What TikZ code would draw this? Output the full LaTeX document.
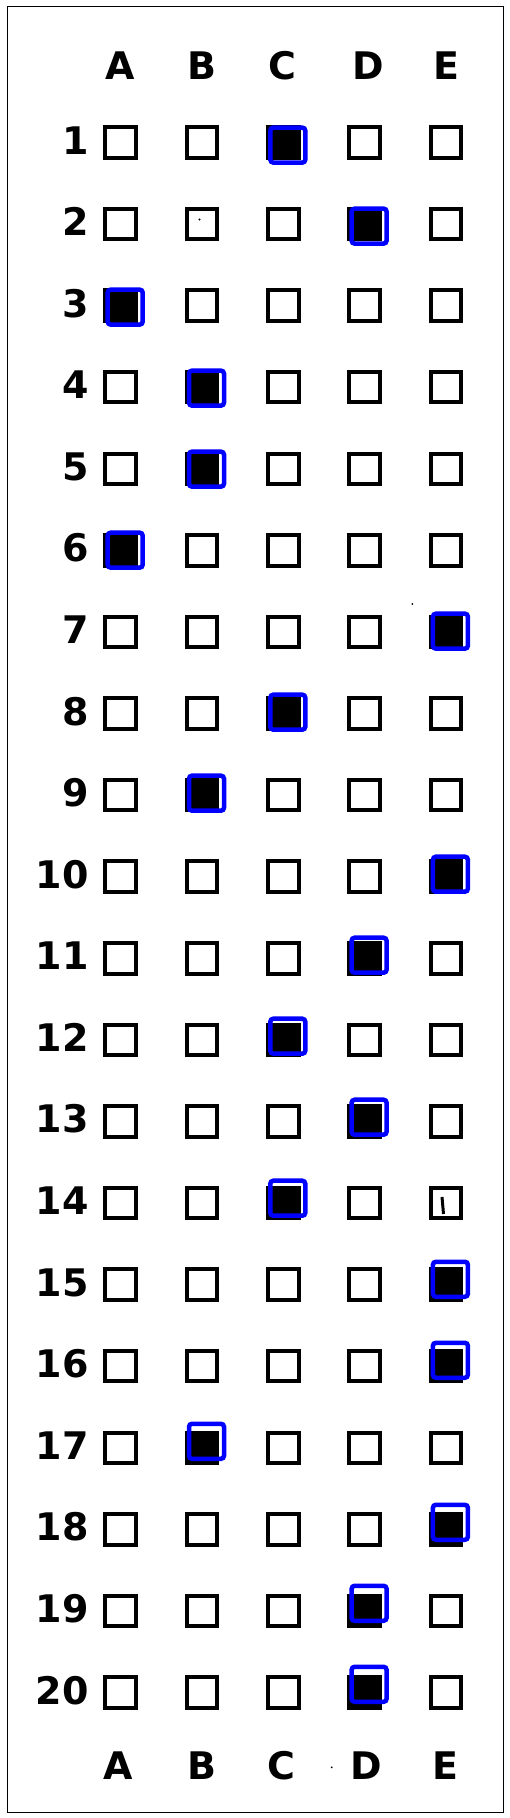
\documentclass[tikz,border=0pt]{standalone}
\usepackage{fontspec}
\setmainfont{DejaVu Sans}
\usepackage{tikz}
\usetikzlibrary{calc}

\tikzset{
  bubble/.style={draw, line width=4pt, minimum size=30.5pt, inner sep=0pt},
  marked/.style={bubble, fill=black},
  answer/.style={draw=blue, line width=4.5pt, rounded corners=3pt, minimum size=35pt, inner sep=0pt},
  letter/.style={font=\fontsize{38}{38}\selectfont\bfseries, anchor=base, inner sep=0pt},
  number/.style={font=\fontsize{38}{38}\selectfont\bfseries, anchor=base east, inner sep=0pt}
}

\begin{document}
\begin{tikzpicture}[x=1pt,y=-1pt]
		\useasboundingbox (0,0) rectangle (510,1818);
		\draw[line width=0.8pt] (7,6) rectangle (503,1812);
		% column letters, top and bottom
		\foreach \x/\l in {120/A,201.7/B,282.7/C,368.3/D,446.7/E}
			\node[letter] (top-\l) at (\x,79.3) {\l};
		\foreach \x/\l in {118.3/A,201.7/B,281.7/C,366.7/D,445.7/E}
			\node[letter] (bot-\l) at (\x,1779.3) {\l};
		% question numbers and empty bubbles
		\foreach \r in {1,...,20} {
			\node[number] (num-\r) at (89,142.5+81.58*\r-81.58+11.5) {\r};
			\foreach \c in {1,...,5}
				\node[bubble] (box-\r-\c) at (120.7+81.3*\c-81.3,142.5+81.58*\r-81.58) {};
		}
		% filled bubbles with the blue answer frames
		\foreach \r/\c in {1/3,2/4,3/1,4/2,5/2,6/1,7/5,8/3,9/2,10/5,11/4,12/3,13/4,14/3,15/5,16/5,17/2,18/5,19/4,20/4} {
			\node[marked] (fill-\r) at (box-\r-\c) {};
			\node[answer] (ans-\r) at ($(box-\r-\c)+(4.5,2.6-0.57*\r+0.57)$) {};
		}
		% stray marks
		\fill (199.5,219.5) circle (1.2);
		\draw[line width=3pt] (442,1197) -- (443.5,1214);
		\fill (412.3,604) circle (1);
		\fill (331.7,1767.3) circle (1);
\end{tikzpicture}
\end{document}
